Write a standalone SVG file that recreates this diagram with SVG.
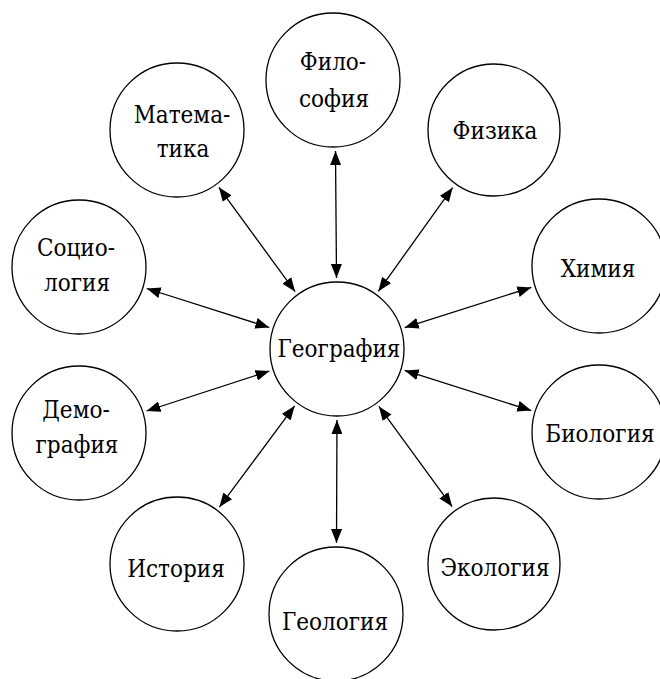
<svg xmlns="http://www.w3.org/2000/svg" width="660" height="679" viewBox="0 0 660 679">
<style>
.node circle{fill:#fff;stroke:#000;stroke-width:1.3}
.node text{font-family:"DejaVu Serif Condensed","DejaVu Serif",serif;font-stretch:condensed;font-size:24px;fill:#000;text-anchor:middle}
.edges line{stroke:#000;stroke-width:1.3;marker-start:url(#ah);marker-end:url(#ah)}
</style>
<defs>
<marker id="ah" viewBox="-14 -5.5 14 11" markerWidth="14" markerHeight="11" refX="0" refY="0" markerUnits="userSpaceOnUse" orient="auto-start-reverse">
<path d="M0,0 L-14,-5.5 L-14,5.5 Z" fill="#000"/>
</marker>
</defs>
<rect width="660" height="679" fill="#fff"/>
<g class="edges">
<line x1="335.5" y1="151" x2="336.5" y2="278"/>
<line x1="218.9" y1="187.3" x2="295.1" y2="291.7"/>
<line x1="452.6" y1="187.7" x2="378.4" y2="291.3"/>
<line x1="146.7" y1="288.5" x2="269.3" y2="327.5"/>
<line x1="531.3" y1="287.4" x2="404.7" y2="327.6"/>
<line x1="146.5" y1="411" x2="269.5" y2="371"/>
<line x1="531.3" y1="410.6" x2="404.7" y2="370.4"/>
<line x1="219.4" y1="507.1" x2="294.6" y2="405.9"/>
<line x1="452.1" y1="506.6" x2="378.9" y2="406.4"/>
<line x1="336.5" y1="543" x2="337" y2="420"/>
</g>
<g id="n-geografiya" class="node"><circle cx="337" cy="349" r="67"/><text x="339" y="357">География</text></g>
<g id="n-filosofiya" class="node"><circle cx="333" cy="80" r="67"/><text x="333" y="70">Фило-</text><text x="334" y="107">софия</text></g>
<g id="n-matematika" class="node"><circle cx="177" cy="130" r="67"/><text x="182" y="123">Матема-</text><text x="183" y="157">тика</text></g>
<g id="n-fizika" class="node"><circle cx="494" cy="130" r="66"/><text x="495" y="139">Физика</text></g>
<g id="n-sociologiya" class="node"><circle cx="79" cy="267" r="67"/><text x="76" y="256">Социо-</text><text x="77" y="291">логия</text></g>
<g id="n-khimiya" class="node"><circle cx="599" cy="266" r="67"/><text x="598" y="277">Химия</text></g>
<g id="n-demografiya" class="node"><circle cx="79" cy="433" r="67"/><text x="76" y="418">Демо-</text><text x="77" y="453">графия</text></g>
<g id="n-biologiya" class="node"><circle cx="599" cy="432" r="67"/><text x="600" y="442">Биология</text></g>
<g id="n-istoriya" class="node"><circle cx="177" cy="564" r="67"/><text x="176" y="577">История</text></g>
<g id="n-ekologiya" class="node"><circle cx="494" cy="564" r="66"/><text x="495" y="576">Экология</text></g>
<g id="n-geologiya" class="node"><circle cx="336" cy="614" r="67"/><text x="335" y="630">Геология</text></g>
</svg>
